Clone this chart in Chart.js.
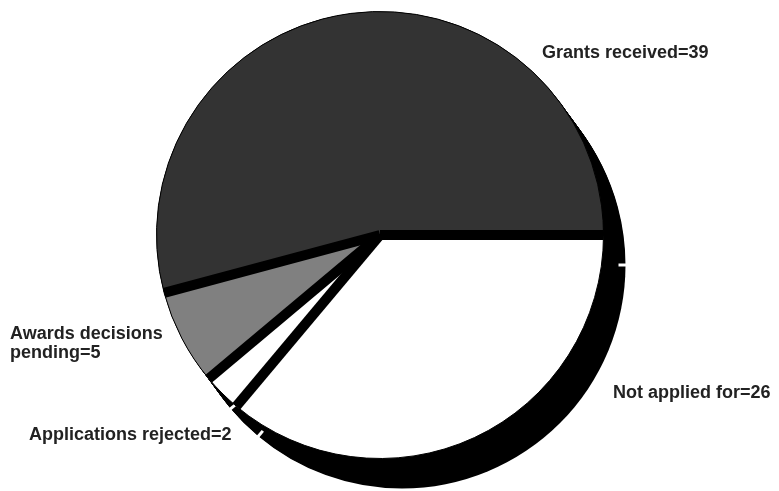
<!DOCTYPE html>
<html>
<head>
<meta charset="utf-8">
<script src="https://cdn.jsdelivr.net/npm/chart.js@4.4.0/dist/chart.umd.min.js"></script>
<style>
  html, body { margin: 0; padding: 0; background: #fff; }
  #wrap { width: 779px; height: 491px; }
</style>
</head>
<body>
<div id="wrap"><canvas id="myChart"></canvas></div>
<script>
// data, clockwise from 3 o'clock
var categories = ["Not applied for", "Applications rejected", "Awards decisions pending", "Grants received"];
var counts = [26, 2, 5, 39];
var sliceColors = ["#ffffff", "#ffffff", "#808080", "#333333"];

// where each label sits: left x, first baseline y, wrap width
var labelBoxes = [
  { x: 613, y: 398, w: 200 },
  { x: 29, y: 440, w: 260 },
  { x: 10, y: 339, w: 170 },
  { x: 542, y: 58, w: 240 }
];

var depth = { x: 22, y: 30 };   // extrusion of the "3D" pie
var sepWidth = 10;             // black walls between slices

function arcProps(arc) {
  return arc.getProps(['x', 'y', 'startAngle', 'endAngle', 'outerRadius'], true);
}

var shadow3d = {
  id: 'shadow3d',
  beforeDatasetsDraw: function (chart) {
    var ctx = chart.ctx;
    var arcs = chart.getDatasetMeta(0).data;
    var steps = 30;
    ctx.save();
    ctx.fillStyle = '#000';
    for (var s = 0; s <= steps; s++) {
      var t = s / steps;
      arcs.forEach(function (arc) {
        var p = arcProps(arc);
        var cx = p.x + depth.x * t, cy = p.y + depth.y * t;
        ctx.beginPath();
        ctx.moveTo(cx, cy);
        ctx.arc(cx, cy, p.outerRadius, p.startAngle, p.endAngle);
        ctx.closePath();
        ctx.fill();
      });
    }
    // small gaps where the extruded sides meet
    ctx.strokeStyle = '#fff';
    ctx.lineWidth = 3;
    arcs.forEach(function (arc) {
      var p = arcProps(arc);
      var cx = p.x + depth.x, cy = p.y + depth.y;
      var a = p.startAngle, r = p.outerRadius;
      ctx.beginPath();
      ctx.moveTo(cx + Math.cos(a) * (r - 7), cy + Math.sin(a) * (r - 7));
      ctx.lineTo(cx + Math.cos(a) * (r + 2), cy + Math.sin(a) * (r + 2));
      ctx.stroke();
    });
    ctx.restore();
  },
  afterDatasetsDraw: function (chart) {
    var ctx = chart.ctx;
    var arcs = chart.getDatasetMeta(0).data;
    ctx.save();
    ctx.strokeStyle = '#000';
    ctx.lineWidth = sepWidth;
    ctx.lineCap = 'butt';
    arcs.forEach(function (arc) {
      var p = arcProps(arc);
      ctx.beginPath();
      ctx.moveTo(p.x, p.y);
      ctx.lineTo(p.x + Math.cos(p.startAngle) * p.outerRadius, p.y + Math.sin(p.startAngle) * p.outerRadius);
      ctx.stroke();
    });
    ctx.restore();
  }
};

var sliceLabels = {
  id: 'sliceLabels',
  afterDraw: function (chart) {
    var ctx = chart.ctx;
    ctx.save();
    ctx.font = 'bold 18px "Liberation Sans", Arial, sans-serif';
    ctx.fillStyle = '#222';
    ctx.textAlign = 'left';
    ctx.textBaseline = 'alphabetic';
    categories.forEach(function (name, i) {
      var box = labelBoxes[i];
      var words = (name + '=' + counts[i]).split(' ');
      var lines = [], line = '';
      words.forEach(function (w) {
        var test = line ? line + ' ' + w : w;
        if (line && ctx.measureText(test).width > box.w) {
          lines.push(line);
          line = w;
        } else {
          line = test;
        }
      });
      lines.push(line);
      lines.forEach(function (l, k) {
        ctx.fillText(l, box.x, box.y + k * 19);
      });
    });
    ctx.restore();
  }
};

var ctx = document.getElementById('myChart').getContext('2d');
var chart = new Chart(ctx, {
  type: 'pie',
  data: {
    labels: categories,
    datasets: [{
      data: counts,
      backgroundColor: sliceColors,
      borderColor: '#000',
      borderWidth: 1,
      hoverOffset: 0
    }]
  },
  options: {
    responsive: true,
    maintainAspectRatio: false,
    animation: false,
    events: [],
    rotation: 90,
    layout: { padding: { left: 156, right: 175, top: 11, bottom: 32 } },
    plugins: {
      legend: { display: false },
      tooltip: { enabled: false }
    }
  },
  plugins: [shadow3d, sliceLabels]
});
</script>
</body>
</html>
